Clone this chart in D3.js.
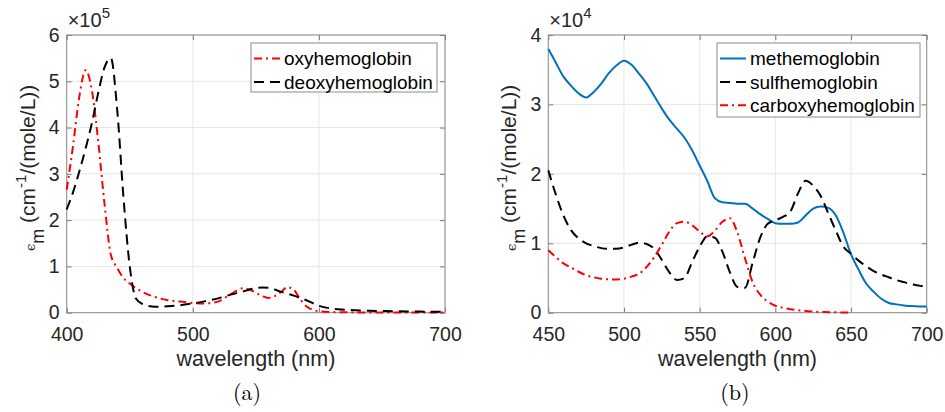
<!DOCTYPE html>
<html>
<head>
<meta charset="utf-8">
<script src="https://cdn.jsdelivr.net/npm/d3@7"></script>
<style>
  body { margin: 0; background: #fff; }
  text { font-family: Helvetica, Arial, "Liberation Sans", sans-serif; }
</style>
</head>
<body>
<div id="chart"></div>
<script>
// panel (a): oxy / deoxy hemoglobin, values x 1e5
const wlA = [400, 405, 410, 415, 420, 425, 430, 435, 440, 445, 450, 455, 460, 470, 480, 490, 500, 510, 520, 530,
  540, 545, 550, 555, 560, 565, 570, 575, 580, 585, 590, 600, 610, 620, 640, 660, 680, 700];
const oxyA = [2.66, 3.6, 4.67, 5.24, 4.8, 3.7, 2.35, 1.25, 0.97, 0.75, 0.63, 0.53, 0.45, 0.34, 0.27, 0.24, 0.21, 0.20, 0.24, 0.40,
  0.53, 0.50, 0.43, 0.36, 0.32, 0.36, 0.45, 0.55, 0.50, 0.30, 0.14, 0.032, 0.015, 0.009, 0.005, 0.004, 0.003, 0.003];
const deoxyA = [2.23, 2.6, 3.05, 3.55, 4.1, 4.75, 5.3, 5.5, 4.4, 2.5, 1.0, 0.3, 0.19, 0.13, 0.14, 0.16, 0.2, 0.25, 0.31, 0.39,
  0.46, 0.5, 0.53, 0.545, 0.54, 0.5, 0.45, 0.41, 0.37, 0.32, 0.27, 0.15, 0.09, 0.065, 0.043, 0.032, 0.024, 0.018];

// panel (b): met / sulf / carboxy hemoglobin, values x 1e4
const wlB = [450, 455, 460, 465, 470, 475, 480, 485, 490, 495, 500, 505, 510, 515, 520, 525, 530, 535, 540, 545,
  550, 555, 560, 565, 570, 575, 580, 585, 590, 595, 600, 605, 610, 615, 620, 625, 630, 635, 640, 645,
  650, 655, 660, 665, 670, 675, 680, 685, 690, 695, 700];
const metB = [3.80, 3.60, 3.40, 3.27, 3.16, 3.10, 3.18, 3.30, 3.45, 3.56, 3.63, 3.57, 3.44, 3.30, 3.12, 2.94, 2.78, 2.65, 2.52, 2.34,
  2.12, 1.90, 1.65, 1.59, 1.58, 1.57, 1.57, 1.50, 1.42, 1.35, 1.29, 1.28, 1.28, 1.30, 1.40, 1.50, 1.53, 1.51, 1.40, 1.15,
  0.84, 0.62, 0.42, 0.30, 0.20, 0.14, 0.12, 0.105, 0.095, 0.09, 0.09];
const sulfB = [2.05, 1.70, 1.40, 1.19, 1.07, 1.00, 0.96, 0.93, 0.92, 0.92, 0.94, 0.98, 1.01, 0.99, 0.92, 0.76, 0.58, 0.47, 0.50, 0.73,
  0.95, 1.10, 1.08, 0.88, 0.58, 0.37, 0.36, 0.72, 1.08, 1.28, 1.33, 1.38, 1.46, 1.72, 1.90, 1.83, 1.68, 1.43, 1.18, 0.95,
  0.85, 0.75, 0.67, 0.60, 0.55, 0.51, 0.47, 0.44, 0.41, 0.39, 0.37];
const wlC = [450, 455, 460, 465, 470, 475, 480, 485, 490, 495, 500, 505, 510, 515, 520, 525, 530, 535, 540, 545,
  550, 555, 560, 565, 570, 575, 580, 585, 590, 595, 600, 605, 610, 615, 620, 625, 630, 635, 640, 645, 650];
const carbB = [0.90, 0.80, 0.71, 0.65, 0.59, 0.54, 0.51, 0.49, 0.48, 0.48, 0.49, 0.52, 0.56, 0.66, 0.80, 0.98, 1.17, 1.29, 1.31, 1.26,
  1.17, 1.10, 1.18, 1.31, 1.36, 1.15, 0.78, 0.44, 0.26, 0.16, 0.10, 0.07, 0.05, 0.035, 0.025, 0.018, 0.012, 0.008, 0.005, 0.003, 0.002];

const xTicksA = [400, 500, 600, 700];
const yTicksA = [0, 1, 2, 3, 4, 5, 6];
const xTicksB = [450, 500, 550, 600, 650, 700];
const yTicksB = [0, 1, 2, 3, 4];

const svgWidth = 945, svgHeight = 412;
const axisColor = "#262626";
const dashed = "10,6";
const dashDot = "8,4,2,4";

const svg = d3.select("#chart").append("svg")
  .attr("width", svgWidth)
  .attr("height", svgHeight)
  .style("background", "#fff");

function drawPanel(p) {
  const g = svg.append("g");
  const x = d3.scaleLinear().domain(p.xDomain).range([p.left, p.right]);
  const y = d3.scaleLinear().domain(p.yDomain).range([p.bottom, p.top]);

  // grid
  g.selectAll(".gx").data(p.xTicks).enter().append("line")
    .attr("x1", d => x(d)).attr("x2", d => x(d))
    .attr("y1", p.top).attr("y2", p.bottom)
    .attr("stroke", "#e6e6e6").attr("stroke-width", 1);
  g.selectAll(".gy").data(p.yTicks).enter().append("line")
    .attr("x1", p.left).attr("x2", p.right)
    .attr("y1", d => y(d)).attr("y2", d => y(d))
    .attr("stroke", "#e6e6e6").attr("stroke-width", 1);

  // axes, ticks inside like matlab
  const bottomAxis = g.append("g").attr("transform", `translate(0,${p.bottom})`)
    .call(d3.axisBottom(x).tickValues(p.xTicks).tickFormat(d3.format("d"))
      .tickSizeInner(-5).tickSizeOuter(0).tickPadding(14));
  const leftAxis = g.append("g").attr("transform", `translate(${p.left},0)`)
    .call(d3.axisLeft(y).tickValues(p.yTicks).tickFormat(d3.format("d"))
      .tickSizeInner(-5).tickSizeOuter(0).tickPadding(7));
  const topAxis = g.append("g").attr("transform", `translate(0,${p.top})`)
    .call(d3.axisTop(x).tickValues(p.xTicks).tickFormat("").tickSizeInner(-5).tickSizeOuter(0));
  const rightAxis = g.append("g").attr("transform", `translate(${p.right},0)`)
    .call(d3.axisRight(y).tickValues(p.yTicks).tickFormat("").tickSizeInner(-5).tickSizeOuter(0));
  [bottomAxis, leftAxis, topAxis, rightAxis].forEach(a => {
    a.select(".domain").remove();
    a.selectAll(".tick line").attr("stroke", "#7a7a7a");
    a.selectAll(".tick text").attr("fill", axisColor)
      .style("font-size", "19.5px")
      .style("font-family", "Helvetica, Arial, 'Liberation Sans', sans-serif");
  });

  // box
  g.append("rect")
    .attr("x", p.left).attr("y", p.top)
    .attr("width", p.right - p.left).attr("height", p.bottom - p.top)
    .attr("fill", "none").attr("stroke", "#8c8c8c").attr("stroke-width", 1);

  // curves
  p.series.forEach(s => {
    const line = d3.line()
      .curve(d3.curveMonotoneX)
      .x((d, i) => x(s.wl[i]))
      .y(d => y(d));
    g.append("path")
      .datum(s.values)
      .attr("fill", "none")
      .attr("stroke", s.color)
      .attr("stroke-width", 2)
      .attr("stroke-dasharray", s.dash)
      .attr("d", line);
  });

  // legend
  const lg = g.append("g");
  lg.append("rect")
    .attr("x", p.legend.x).attr("y", p.legend.y)
    .attr("width", p.legend.w).attr("height", p.legend.h)
    .attr("fill", "#fff").attr("stroke", "#8c8c8c").attr("stroke-width", 1);
  p.series.forEach((s, i) => {
    const ly = p.legend.y + 15.5 + i * 23.4;
    lg.append("line")
      .attr("x1", p.legend.x + 3).attr("x2", p.legend.x + 29)
      .attr("y1", ly).attr("y2", ly)
      .attr("stroke", s.color).attr("stroke-width", 2)
      .attr("stroke-dasharray", s.dash);
    lg.append("text")
      .attr("x", p.legend.x + 33).attr("y", ly)
      .attr("dy", "0.35em")
      .style("font-size", "19px")
      .attr("fill", "#000")
      .text(s.name);
  });

  // exponent
  const ex = g.append("text")
    .attr("x", p.left + 1).attr("y", p.top - 8)
    .attr("fill", axisColor)
    .style("font-size", "20px");
  ex.append("tspan").text("\u00d710");
  ex.append("tspan").attr("dy", -9).style("font-size", "15px").text(p.exponent);

  // y label
  const yl = g.append("text")
    .attr("transform", `translate(${p.left - 32},${(p.top + p.bottom) / 2 - 6}) rotate(-90)`)
    .attr("text-anchor", "middle")
    .attr("fill", axisColor)
    .style("font-size", "21px");
  yl.append("tspan").style("font-family", "'DejaVu Serif', serif").style("font-size", "13px").text("\u03f5");
  yl.append("tspan").attr("dy", 9).style("font-size", "18px").text("m");
  yl.append("tspan").attr("dy", -9).text(" (cm");
  yl.append("tspan").attr("dy", -9).style("font-size", "15px").text("-1");
  yl.append("tspan").attr("dy", 9).text("/(mole/L))");

  // x label
  g.append("text")
    .attr("x", (p.left + p.right) / 2).attr("y", p.bottom + 53)
    .attr("text-anchor", "middle")
    .attr("fill", axisColor)
    .style("font-size", "21.5px")
    .text("wavelength (nm)");

  // caption
  g.append("text")
    .attr("x", p.captionX).attr("y", 400)
    .attr("text-anchor", "middle")
    .attr("fill", "#000")
    .style("font-size", "22px")
    .style("font-family", "'Latin Modern Roman', 'Liberation Serif', 'DejaVu Serif', serif")
    .text(p.caption);
}

drawPanel({
  left: 66.7, right: 445, top: 35, bottom: 312.7,
  xDomain: [400, 700], yDomain: [0, 6],
  xTicks: xTicksA, yTicks: yTicksA,
  exponent: "5", caption: "(a)", captionX: 247,
  legend: { x: 251, y: 43, w: 186, h: 49 },
  series: [
    { name: "oxyhemoglobin", wl: wlA, values: oxyA, color: "#ff0000", dash: dashDot },
    { name: "deoxyhemoglobin", wl: wlA, values: deoxyA, color: "#000000", dash: dashed }
  ]
});

drawPanel({
  left: 548.3, right: 926.7, top: 35, bottom: 312.7,
  xDomain: [450, 700], yDomain: [0, 4],
  xTicks: xTicksB, yTicks: yTicksB,
  exponent: "4", caption: "(b)", captionX: 735,
  legend: { x: 717, y: 43, w: 203, h: 74 },
  series: [
    { name: "methemoglobin", wl: wlB, values: metB, color: "#0072bd", dash: null },
    { name: "sulfhemoglobin", wl: wlB, values: sulfB, color: "#000000", dash: dashed },
    { name: "carboxyhemoglobin", wl: wlC, values: carbB, color: "#ff0000", dash: dashDot }
  ]
});
</script>
</body>
</html>
